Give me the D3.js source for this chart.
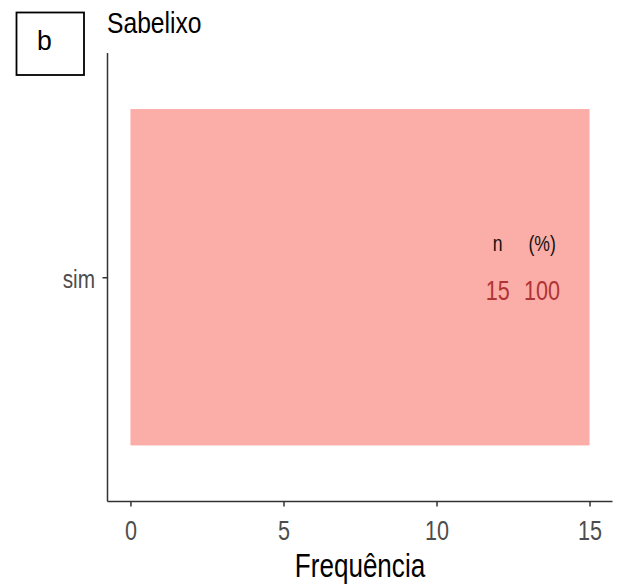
<!DOCTYPE html>
<html><head><meta charset="utf-8">
<script src="https://cdn.jsdelivr.net/npm/d3@7"></script>
<style>
html,body{margin:0;padding:0;background:#fff;}
svg{display:block;}
text{font-family:"Liberation Sans",Arial,sans-serif;}
</style>
</head><body>
<script>
const categories = ["sim"];
const counts = [15];
const percents = [100];
const xTicks = [0, 5, 10, 15];
const title = "Sabelixo";
const xTitle = "Frequência";
const panelLabel = "b";

const W = 619, H = 584;
const SX = 0.8; // horizontal condensation of text
const svg = d3.select("body").append("svg").attr("width", W).attr("height", H);
const P = {left: 107.5, right: 612.5, top: 53, bottom: 501.5};

const x = d3.scaleLinear().domain([-0.75, 15.75]).range([P.left, P.right]);
const yC = d3.scaleLinear().domain([0.4, categories.length + 0.6]).range([P.top, P.bottom]);
const yPos = d3.scalePoint().domain(categories).range([yC(1), yC(categories.length)]);

function txt(g, px, py, s, size, fill, anchor, sx) {
  return g.append("text")
    .attr("transform", `translate(${px},${py}) scale(${sx},1)`)
    .attr("text-anchor", anchor).attr("font-size", size).attr("fill", fill).text(s);
}

// bars
svg.append("g").selectAll("rect").data(categories).join("rect")
  .attr("x", x(0))
  .attr("width", (d,i) => x(counts[i]) - x(0))
  .attr("y", (d,i) => yC(i + 1 - 0.45))
  .attr("height", (d,i) => yC(i + 1 + 0.45) - yC(i + 1 - 0.45))
  .attr("fill", "#F8766D").attr("fill-opacity", 0.6);

// annotations
const ann = svg.append("g");
txt(ann, x(12), yC(1) - 26.5, "n", 22, "#111", "middle", SX);
txt(ann, x(13.45), yC(1) - 26.5, "(%)", 22, "#111", "middle", SX);
categories.forEach((c, i) => {
  txt(ann, x(12), yC(i+1) + 22.75, String(counts[i]), 27, "#B03434", "middle", SX);
  txt(ann, x(13.45), yC(i+1) + 22.75, String(percents[i]), 27, "#B03434", "middle", SX);
});

// x axis
const xAxis = d3.axisBottom(x).tickValues(xTicks).tickSize(5).tickSizeOuter(0);
const gx = svg.append("g").attr("transform", `translate(0,${P.bottom})`).call(xAxis);
gx.select(".domain").attr("stroke","#333").attr("stroke-width",1.5).attr("d", `M${P.left},0H${P.right}`);
gx.selectAll(".tick line").attr("stroke","#333").attr("stroke-width",1.5);
gx.selectAll(".tick text").attr("y", 38.5).attr("dy", 0)
  .attr("transform", `scale(${SX},1)`)
  .attr("font-family", "Liberation Sans, Arial, sans-serif")
  .attr("font-size", 27).attr("fill", "#4D4D4D");

// y axis (labels drawn separately)
const yAxis = d3.axisLeft(yPos).tickSize(5).tickSizeOuter(0).tickFormat("");
const gy = svg.append("g").attr("transform", `translate(${P.left},0)`).call(yAxis);
gy.select(".domain").attr("stroke","#333").attr("stroke-width",1.5).attr("d", `M0,${P.top}V${P.bottom}`);
gy.selectAll(".tick line").attr("stroke","#333").attr("stroke-width",1.5);
gy.selectAll(".tick text").remove();
categories.forEach(c => {
  txt(svg, P.left - 12.5, yPos(c) + 10.5, c, 26, "#4D4D4D", "end", SX);
});

// titles
txt(svg, 107, 32.5, title, 29, "#000", "start", 0.85);
txt(svg, (P.left + P.right) / 2, 577, xTitle, 33, "#000", "middle", 0.79);

// panel label box
svg.append("rect").attr("x",16.5).attr("y",12.5).attr("width",67.5).attr("height",62.5)
  .attr("fill","#fff").attr("stroke","#000").attr("stroke-width",1.8);
txt(svg, 44.5, 50, panelLabel, 28, "#000", "middle", 0.95);
</script>
</body></html>
